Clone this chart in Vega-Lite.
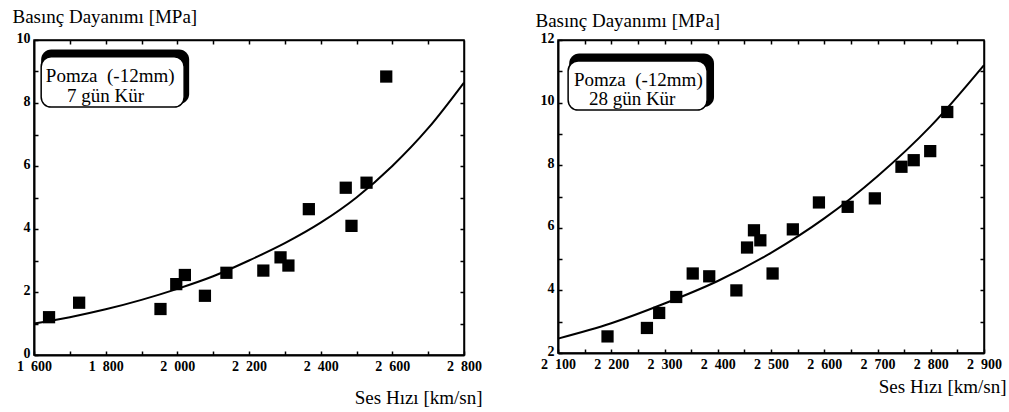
{
  "$schema": "https://vega.github.io/schema/vega-lite/v6.json",
  "background": "white",
  "padding": {"left": 11, "top": 6, "right": 2, "bottom": 5},
  "spacing": 94,
  "bounds": "flush",
  "config": {
    "view": {"stroke": "black", "strokeWidth": 1.5},
    "axis": {
      "domainColor": "black", "domainWidth": 2, "tickColor": "black", "tickWidth": 1.5,
      "tickSize": -4, "labelPadding": 7, "labelFont": "Liberation Serif", "labelFontWeight": "bold",
      "labelFontSize": 14, "labelColor": "black", "grid": false,
      "titleFont": "Liberation Serif", "titleFontWeight": "normal", "titleFontSize": 19, "titleColor": "black"
    },
    "text": {"font": "Liberation Serif", "fontSize": 19, "color": "black", "align": "left", "baseline": "alphabetic"}
  },
  "datasets": {
    "pts7": [
      {"v": 1642, "s": 1.2}, {"v": 1726, "s": 1.66}, {"v": 1953, "s": 1.46}, {"v": 1997, "s": 2.25},
      {"v": 2021, "s": 2.54}, {"v": 2077, "s": 1.88}, {"v": 2137, "s": 2.61}, {"v": 2240, "s": 2.68},
      {"v": 2288, "s": 3.1}, {"v": 2310, "s": 2.84}, {"v": 2367, "s": 4.63}, {"v": 2470, "s": 5.31},
      {"v": 2486, "s": 4.1}, {"v": 2528, "s": 5.47}, {"v": 2583, "s": 8.84}
    ],
    "fit7": [
      {"v": 1600, "s": 1.0}, {"v": 1700, "s": 1.2}, {"v": 1800, "s": 1.45}, {"v": 1900, "s": 1.75},
      {"v": 2000, "s": 2.1}, {"v": 2100, "s": 2.5}, {"v": 2200, "s": 3.0}, {"v": 2300, "s": 3.55},
      {"v": 2400, "s": 4.2}, {"v": 2500, "s": 5.0}, {"v": 2600, "s": 6.0}, {"v": 2700, "s": 7.2},
      {"v": 2800, "s": 8.65}
    ],
    "box7": [{"a": 1620, "b": 2033, "c": 9.7, "d": 7.97, "e": 1620, "f": 2019, "g": 9.47, "h": 7.87}],
    "lab7": [
      {"v": 1633, "s": 8.67, "t": "Pomza\u00a0\u00a0(-12mm)"},
      {"v": 1692, "s": 8.02, "t": "7 gün Kür"}
    ],
    "pts28": [
      {"v": 2193, "s": 2.53}, {"v": 2267, "s": 2.8}, {"v": 2290, "s": 3.28}, {"v": 2322, "s": 3.79},
      {"v": 2353, "s": 4.54}, {"v": 2384, "s": 4.45}, {"v": 2435, "s": 4.0}, {"v": 2455, "s": 5.37},
      {"v": 2468, "s": 5.92}, {"v": 2480, "s": 5.6}, {"v": 2503, "s": 4.54}, {"v": 2541, "s": 5.95},
      {"v": 2590, "s": 6.81}, {"v": 2644, "s": 6.67}, {"v": 2695, "s": 6.94}, {"v": 2745, "s": 7.95},
      {"v": 2768, "s": 8.16}, {"v": 2799, "s": 8.45}, {"v": 2831, "s": 9.7}
    ],
    "fit28": [
      {"v": 2100, "s": 2.46}, {"v": 2200, "s": 2.95}, {"v": 2300, "s": 3.58}, {"v": 2400, "s": 4.3},
      {"v": 2500, "s": 5.2}, {"v": 2600, "s": 6.3}, {"v": 2700, "s": 7.65}, {"v": 2800, "s": 9.25},
      {"v": 2900, "s": 11.2}
    ],
    "box28": [{"a": 2121, "b": 2393, "c": 11.57, "d": 9.86, "e": 2119, "f": 2380, "g": 11.33, "h": 9.76}],
    "lab28": [
      {"v": 2130, "s": 10.53, "t": "Pomza\u00a0\u00a0(-12mm)"},
      {"v": 2158, "s": 9.92, "t": "28 gün Kür"}
    ]
  },
  "hconcat": [
    {
      "width": 430,
      "height": 315,
      "layer": [
        {
          "data": {"name": "box7"},
          "mark": {"type": "rect", "color": "black", "cornerRadius": 10},
          "encoding": {
            "x": {"field": "a", "type": "quantitative", "scale": {"domain": [1600, 2800], "nice": false, "zero": false}, "axis": null},
            "x2": {"field": "b"},
            "y": {"field": "c", "type": "quantitative", "scale": {"domain": [0, 10], "nice": false}, "axis": null},
            "y2": {"field": "d"}
          }
        },
        {
          "data": {"name": "box7"},
          "mark": {"type": "rect", "fill": "white", "stroke": "black", "strokeWidth": 1.5, "cornerRadius": 10},
          "encoding": {
            "x": {"field": "e", "type": "quantitative", "axis": null},
            "x2": {"field": "f"},
            "y": {"field": "g", "type": "quantitative", "axis": null},
            "y2": {"field": "h"}
          }
        },
        {
          "data": {"name": "lab7"},
          "mark": {"type": "text"},
          "encoding": {
            "x": {"field": "v", "type": "quantitative", "axis": null},
            "y": {"field": "s", "type": "quantitative", "axis": null},
            "text": {"field": "t"}
          }
        },
        {
          "data": {"name": "fit7"},
          "mark": {"type": "line", "color": "black", "strokeWidth": 2, "interpolate": "monotone"},
          "encoding": {
            "x": {"field": "v", "type": "quantitative", "axis": {"orient": "top", "labels": false, "title": null, "values": [1700, 1800, 1900, 2000, 2100, 2200, 2300, 2400, 2500, 2600, 2700], "domainWidth": 1.5}},
            "y": {"field": "s", "type": "quantitative", "axis": {"orient": "right", "labels": false, "title": null, "values": [1, 2, 3, 4, 5, 6, 7, 8, 9], "domainWidth": 1.5}}
          }
        },
        {
          "data": {"name": "pts7"},
          "mark": {"type": "point", "shape": "square", "filled": true, "color": "black", "opacity": 1, "size": 150},
          "encoding": {
            "x": {"field": "v", "type": "quantitative", "axis": {
              "orient": "bottom", "values": [1600, 1700, 1800, 1900, 2000, 2100, 2200, 2300, 2400, 2500, 2600, 2700, 2800],
              "labelExpr": "datum.value % 200 == 0 ? replace(format(datum.value, ','), ',', '\u2002') : ''",
              "labelFlush": false, "labelOverlap": false, "labelPadding": 8,
              "title": "Ses Hızı [km/sn]", "titleFontSize": 19, "titleAlign": "right", "titleBaseline": "alphabetic", "titleX": 448, "titleY": 48
            }},
            "y": {"field": "s", "type": "quantitative", "axis": {
              "orient": "left", "values": [0, 1, 2, 3, 4, 5, 6, 7, 8, 9, 10],
              "labelExpr": "datum.value % 2 == 0 ? datum.label : ''", "labelOverlap": false, "labelPadding": 8, "labelOffset": -2,
              "title": "Basınç Dayanımı [MPa]", "titleFontSize": 19, "titleAngle": 0, "titleAlign": "left", "titleBaseline": "alphabetic", "titleX": -22, "titleY": -18
            }}
          }
        }
      ]
    },
    {
      "width": 426,
      "height": 313,
      "layer": [
        {
          "data": {"name": "box28"},
          "mark": {"type": "rect", "color": "black", "cornerRadius": 10},
          "encoding": {
            "x": {"field": "a", "type": "quantitative", "scale": {"domain": [2100, 2900], "nice": false, "zero": false}, "axis": null},
            "x2": {"field": "b"},
            "y": {"field": "c", "type": "quantitative", "scale": {"domain": [2, 12], "nice": false, "zero": false}, "axis": null},
            "y2": {"field": "d"}
          }
        },
        {
          "data": {"name": "box28"},
          "mark": {"type": "rect", "fill": "white", "stroke": "black", "strokeWidth": 1.5, "cornerRadius": 10},
          "encoding": {
            "x": {"field": "e", "type": "quantitative", "axis": null},
            "x2": {"field": "f"},
            "y": {"field": "g", "type": "quantitative", "axis": null},
            "y2": {"field": "h"}
          }
        },
        {
          "data": {"name": "lab28"},
          "mark": {"type": "text"},
          "encoding": {
            "x": {"field": "v", "type": "quantitative", "axis": null},
            "y": {"field": "s", "type": "quantitative", "axis": null},
            "text": {"field": "t"}
          }
        },
        {
          "data": {"name": "fit28"},
          "mark": {"type": "line", "color": "black", "strokeWidth": 2, "interpolate": "monotone"},
          "encoding": {
            "x": {"field": "v", "type": "quantitative", "axis": {"orient": "top", "labels": false, "title": null, "values": [2150, 2200, 2250, 2300, 2350, 2400, 2450, 2500, 2550, 2600, 2650, 2700, 2750, 2800, 2850], "domainWidth": 1.5}},
            "y": {"field": "s", "type": "quantitative", "axis": {"orient": "right", "labels": false, "title": null, "values": [3, 4, 5, 6, 7, 8, 9, 10, 11], "domainWidth": 1.5}}
          }
        },
        {
          "data": {"name": "pts28"},
          "mark": {"type": "point", "shape": "square", "filled": true, "color": "black", "opacity": 1, "size": 150},
          "encoding": {
            "x": {"field": "v", "type": "quantitative", "axis": {
              "orient": "bottom", "values": [2100, 2150, 2200, 2250, 2300, 2350, 2400, 2450, 2500, 2550, 2600, 2650, 2700, 2750, 2800, 2850, 2900],
              "labelExpr": "datum.value % 100 == 0 ? replace(format(datum.value, ','), ',', '\u2002') : ''",
              "labelFlush": false, "labelOverlap": false, "labelPadding": 8,
              "title": "Ses Hızı [km/sn]", "titleFontSize": 19, "titleAlign": "right", "titleBaseline": "alphabetic", "titleX": 448, "titleY": 39
            }},
            "y": {"field": "s", "type": "quantitative", "axis": {
              "orient": "left", "values": [2, 3, 4, 5, 6, 7, 8, 9, 10, 11, 12],
              "labelExpr": "datum.value % 2 == 0 ? datum.label : ''", "labelOverlap": false, "labelPadding": 8, "labelOffset": -2,
              "title": "Basınç Dayanımı [MPa]", "titleFontSize": 19, "titleAngle": 0, "titleAlign": "left", "titleBaseline": "alphabetic", "titleX": -23, "titleY": -14
            }}
          }
        }
      ]
    }
  ]
}
